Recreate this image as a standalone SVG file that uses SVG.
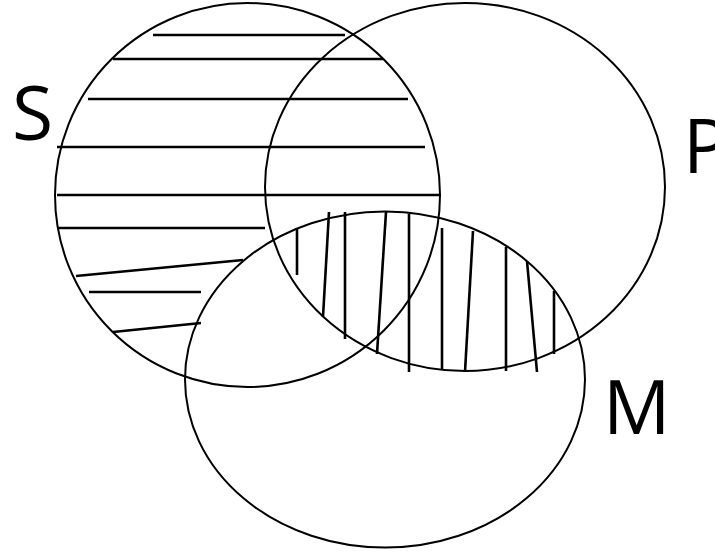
<svg xmlns="http://www.w3.org/2000/svg" width="715" height="557" viewBox="0 0 715 557">
<style>
.set{fill:none;stroke:#000;stroke-width:2}
.hatch line{stroke:#000;stroke-width:2.6;stroke-linecap:butt}
.lbl{font-family:"Open Sans","Liberation Sans",sans-serif;font-size:75px;fill:#000}
</style>
<rect width="715" height="557" fill="#fff"/>
<g id="hatching" class="hatch">
<line x1="153" y1="35" x2="345" y2="35"/>
<line x1="113" y1="59" x2="383" y2="59"/>
<line x1="88" y1="99" x2="408" y2="99"/>
<line x1="57" y1="147" x2="425" y2="147"/>
<line x1="57" y1="195" x2="441" y2="195"/>
<line x1="57" y1="228" x2="265" y2="228"/>
<line x1="76" y1="276" x2="243" y2="260"/>
<line x1="89" y1="292" x2="201" y2="292"/>
<line x1="113" y1="332" x2="201" y2="323"/>
<line x1="297" y1="228" x2="297" y2="275"/>
<line x1="329" y1="212" x2="323" y2="317"/>
<line x1="345" y1="212" x2="345" y2="339"/>
<line x1="386" y1="212" x2="377" y2="354"/>
<line x1="409" y1="214" x2="409" y2="372"/>
<line x1="442" y1="228" x2="442" y2="370"/>
<line x1="473" y1="231" x2="465" y2="372"/>
<line x1="506" y1="247" x2="506" y2="371"/>
<line x1="527" y1="261" x2="537" y2="372"/>
<line x1="554" y1="291" x2="554" y2="354"/>
</g>
<g id="S">
<ellipse class="set" cx="247.5" cy="195" rx="192.5" ry="192"/>
<text class="lbl" x="12" y="140">S</text>
</g>
<g id="P">
<ellipse class="set" cx="465" cy="187" rx="200" ry="184"/>
<text class="lbl" x="683" y="173">P</text>
</g>
<g id="M">
<ellipse class="set" cx="385" cy="379.5" rx="200" ry="168"/>
<text class="lbl" x="603" y="434">M</text>
</g>
</svg>
